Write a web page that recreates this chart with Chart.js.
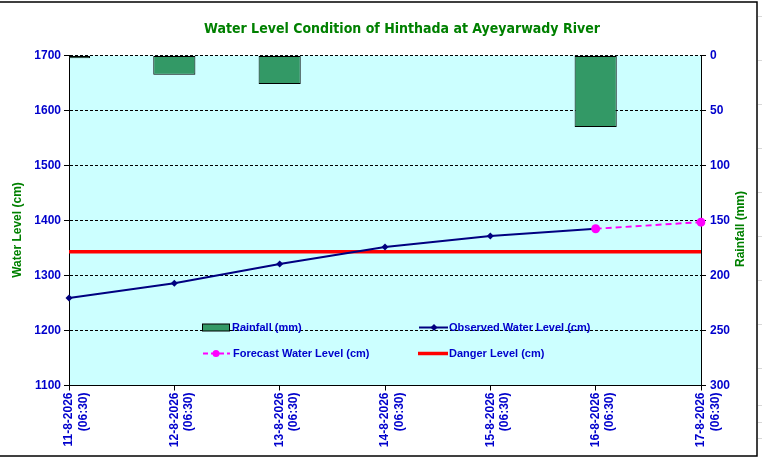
<!DOCTYPE html>
<html>
<head>
<meta charset="utf-8">
<script src="https://cdn.jsdelivr.net/npm/chart.js@4.4.1/dist/chart.umd.min.js"></script>
<style>
  html, body { margin: 0; padding: 0; background: #ffffff; }
  #wrap { position: absolute; left: 0; top: 0; width: 762px; height: 459px; }
</style>
</head>
<body>
<div id="wrap"><canvas id="c" width="762" height="459"></canvas></div>
<script>
// ---- data ----
const chartTitle = "Water Level Condition of Hinthada at Ayeyarwady River";
const dates = ["11-8-2026", "12-8-2026", "13-8-2026", "14-8-2026", "15-8-2026", "16-8-2026", "17-8-2026"];
const times = ["(06:30)", "(06:30)", "(06:30)", "(06:30)", "(06:30)", "(06:30)", "(06:30)"];
const rainfall = [2.5, 17.5, 26, 0, 0.5, 65, null];
const observedLevel = [1259, 1286, 1321, 1352, 1372, 1385, null];
const forecastLevel = [null, null, null, null, null, 1385, 1397];
const dangerLevel = [1343, 1343, 1343, 1343, 1343, 1343, 1343];
const leftAxisTitle = "Water Level (cm)";
const rightAxisTitle = "Rainfall (mm)";
const seriesNames = ["Rainfall (mm)", "Observed Water Level (cm)", "Forecast Water Level (cm)", "Danger Level (cm)"];

const labels = dates.map((d, i) => [d, times[i]]);

const BLUE = '#0000CC';
const GREEN = '#008000';
const tickFont = { family: 'Liberation Sans, Arial, sans-serif', size: 12, weight: 'bold' };

const decor = {
  id: 'decor',
  beforeDraw(chart) {
    const { ctx, chartArea: a } = chart;
    ctx.save();
    ctx.fillStyle = '#ffffff';
    ctx.fillRect(0, 0, chart.width, chart.height);
    ctx.strokeStyle = '#d8d8d8';
    ctx.lineWidth = 1;
    [16, 60, 104, 148, 192, 236, 280, 324, 368, 405, 422, 438].forEach(y => {
      ctx.beginPath(); ctx.moveTo(758, y + 0.5); ctx.lineTo(762, y + 0.5); ctx.stroke();
    });
    ctx.fillStyle = '#CCFFFF';
    ctx.fillRect(a.left, a.top, a.right - a.left, a.bottom - a.top);
    ctx.restore();
  },
  afterDraw(chart) {
    const { ctx } = chart;
    ctx.save();
    ctx.strokeStyle = '#000';
    ctx.lineWidth = 1.5;
    ctx.strokeRect(-2, 2, 759, 454);
    // title
    ctx.fillStyle = GREEN;
    ctx.font = 'bold 14px "DejaVu Sans Condensed", "DejaVu Sans", sans-serif';
    ctx.textAlign = 'center';
    ctx.textBaseline = 'middle';
    ctx.fillText(chartTitle, 402, 29);
    // axis titles (both read bottom-to-top)
    ctx.font = 'bold 12px "Liberation Sans", Arial, sans-serif';
    ctx.save();
    ctx.translate(18, 230);
    ctx.rotate(-Math.PI / 2);
    ctx.fillText(leftAxisTitle, 0, 0);
    ctx.restore();
    ctx.save();
    ctx.translate(741, 229);
    ctx.rotate(-Math.PI / 2);
    ctx.fillText(rightAxisTitle, 0, 0);
    ctx.restore();

    // legend (inside plot area)
    const ds = chart.data.datasets;
    ctx.font = 'bold 11px "Liberation Sans", Arial, sans-serif';
    ctx.textAlign = 'left';
    ctx.textBaseline = 'middle';
    const r1 = 327.5, r2 = 353.5;
    ctx.fillStyle = ds[3].backgroundColor;
    ctx.fillRect(202.5, r1 - 3.5, 27, 7);
    ctx.strokeStyle = '#000'; ctx.lineWidth = 1;
    ctx.strokeRect(202.5, r1 - 3.5, 27, 7);
    ctx.fillStyle = BLUE;
    ctx.fillText(ds[3].label, 232, r1);
    ctx.strokeStyle = ds[1].borderColor; ctx.lineWidth = 2;
    ctx.beginPath(); ctx.moveTo(419, r1); ctx.lineTo(448, r1); ctx.stroke();
    ctx.fillStyle = ds[1].borderColor;
    ctx.beginPath(); ctx.moveTo(434, r1 - 3.5); ctx.lineTo(437.5, r1); ctx.lineTo(434, r1 + 3.5); ctx.lineTo(430.5, r1); ctx.closePath(); ctx.fill();
    ctx.fillStyle = BLUE;
    ctx.fillText(ds[1].label, 449, r1);
    ctx.strokeStyle = ds[0].borderColor; ctx.lineWidth = 2;
    ctx.setLineDash([5, 3]);
    ctx.beginPath(); ctx.moveTo(203, r2); ctx.lineTo(230, r2); ctx.stroke();
    ctx.setLineDash([]);
    ctx.fillStyle = ds[0].borderColor;
    ctx.beginPath(); ctx.arc(216, r2, 3.5, 0, Math.PI * 2); ctx.fill();
    ctx.fillStyle = BLUE;
    ctx.fillText(ds[0].label, 233, r2);
    ctx.strokeStyle = ds[2].borderColor; ctx.lineWidth = 3.5;
    ctx.beginPath(); ctx.moveTo(418, r2); ctx.lineTo(448, r2); ctx.stroke();
    ctx.fillStyle = BLUE;
    ctx.fillText(ds[2].label, 449, r2);
    ctx.restore();
  }
};

new Chart(document.getElementById('c'), {
  data: {
    labels: labels,
    datasets: [
      {
        type: 'line', label: seriesNames[2], data: forecastLevel, yAxisID: 'y',
        borderColor: '#FF00FF', backgroundColor: '#FF00FF', borderWidth: 2, borderDash: [6, 4],
        pointStyle: 'circle', pointRadius: 4.5, pointBorderWidth: 0, tension: 0, order: 0
      },
      {
        type: 'line', label: seriesNames[1], data: observedLevel, yAxisID: 'y',
        borderColor: '#000080', backgroundColor: '#000080', borderWidth: 2,
        pointStyle: 'rectRot', pointRadius: 3.5, pointBorderWidth: 0, tension: 0, order: 1
      },
      {
        type: 'line', label: seriesNames[3], data: dangerLevel, yAxisID: 'y',
        borderColor: '#FF0000', backgroundColor: '#FF0000', borderWidth: 3.5,
        pointRadius: 0, tension: 0, order: 2
      },
      {
        type: 'bar', label: seriesNames[0], data: rainfall, yAxisID: 'y2',
        backgroundColor: '#339966', borderColor: '#000000', borderWidth: 1, borderSkipped: false,
        barPercentage: 0.4, categoryPercentage: 1, order: 3
      }
    ]
  },
  options: {
    responsive: false,
    animation: false,
    devicePixelRatio: 1,
    layout: { padding: { top: 55.5, left: 0, right: 0, bottom: 0 } },
    plugins: { legend: { display: false }, title: { display: false }, tooltip: { enabled: false } },
    scales: {
      x: {
        type: 'category', offset: false,
        afterFit(s) { s.height = 73.5; },
        grid: { display: true, offset: false, drawOnChartArea: false, drawTicks: true, tickLength: 5, color: '#000', tickColor: '#000' },
        border: { display: true, color: '#000', width: 1 },
        ticks: { color: BLUE, font: tickFont, minRotation: 90, maxRotation: 90, autoSkip: false, padding: 2 }
      },
      y: {
        position: 'left', min: 1100, max: 1700,
        afterFit(s) { s.width = 69; },
        grid: { color: '#000', lineWidth: 1, tickLength: 5, tickColor: '#000', drawTicks: true },
        border: { display: true, color: '#000', width: 1, dash: [3, 2] },
        ticks: { stepSize: 100, color: BLUE, font: tickFont, padding: 3, callback: v => String(v) }
      },
      y2: {
        position: 'right', min: 0, max: 300, reverse: true,
        afterFit(s) { s.width = 61; },
        grid: { drawOnChartArea: false, tickLength: 5, tickColor: '#000', color: '#000' },
        border: { display: true, color: '#000', width: 1 },
        ticks: { stepSize: 50, color: BLUE, font: tickFont, padding: 4, callback: v => String(v) }
      }
    }
  },
  plugins: [decor]
});
</script>
</body>
</html>
